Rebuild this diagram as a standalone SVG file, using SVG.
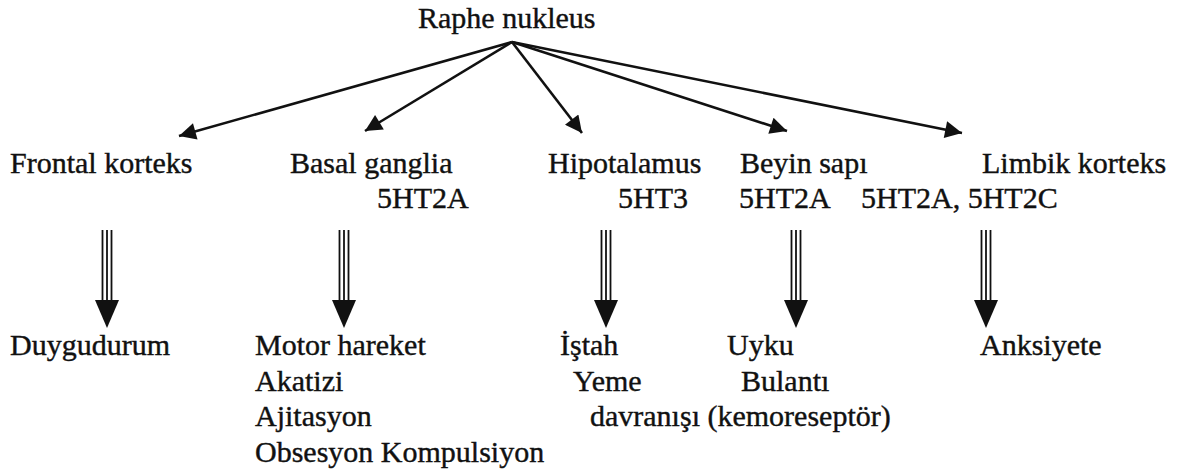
<svg xmlns="http://www.w3.org/2000/svg" width="1190" height="475" viewBox="0 0 1190 475">
<defs>
<style>
text{font-family:"Liberation Serif","Times New Roman",serif;font-size:30px;fill:#111;stroke:#111;stroke-width:0.4}
.c{stroke:#111;stroke-width:2.6;fill:none}
.t{stroke:#111;stroke-width:1.8;fill:none}
.h{fill:#111}
</style>
<marker id="ah" viewBox="0 0 10 10" refX="10" refY="5" markerWidth="9" markerHeight="6.5" markerUnits="strokeWidth" orient="auto">
<path d="M0,0 L10,5 L0,10 Z" fill="#111"/>
</marker>
<g id="tri">
<line class="t" x1="-4.5" y1="0" x2="-4.5" y2="72"/>
<line class="t" x1="0" y1="0" x2="0" y2="72"/>
<line class="t" x1="4.5" y1="0" x2="4.5" y2="72"/>
<path class="h" d="M-12,70 L12,70 L0,98 Z"/>
</g>
</defs>
<rect width="1190" height="475" fill="#fff"/>
<g id="raphe"><text x="418" y="28">Raphe nukleus</text></g>
<g id="frontal"><text x="10" y="173">Frontal korteks</text></g>
<g id="basal"><text x="290" y="173">Basal ganglia</text><text x="377" y="208">5HT2A</text></g>
<g id="hipotalamus"><text x="548" y="173">Hipotalamus</text><text x="618" y="208">5HT3</text></g>
<g id="beyin"><text x="740" y="173">Beyin sapı</text><text x="739" y="208">5HT2A</text></g>
<g id="limbik"><text x="982" y="173">Limbik korteks</text><text x="861" y="208">5HT2A, 5HT2C</text></g>
<g id="duygudurum"><text x="10" y="355">Duygudurum</text></g>
<g id="motor"><text x="255" y="355">Motor hareket</text><text x="255" y="391">Akatizi</text><text x="255" y="426">Ajitasyon</text><text x="255" y="462">Obsesyon Kompulsiyon</text></g>
<g id="istah"><text x="560" y="355">İştah</text><text x="573" y="391">Yeme</text><text x="590" y="426">davranışı (kemoreseptör)</text></g>
<g id="uyku"><text x="727" y="355">Uyku</text><text x="741" y="391">Bulantı</text></g>
<g id="anksiyete"><text x="980" y="355">Anksiyete</text></g>
<g id="connectors">
<line class="c" x1="512" y1="42" x2="179" y2="136" marker-end="url(#ah)"/>
<line class="c" x1="512" y1="42" x2="365" y2="131" marker-end="url(#ah)"/>
<line class="c" x1="512" y1="42" x2="582" y2="133" marker-end="url(#ah)"/>
<line class="c" x1="512" y1="42" x2="787" y2="131" marker-end="url(#ah)"/>
<line class="c" x1="512" y1="42" x2="962" y2="133" marker-end="url(#ah)"/>
<use href="#tri" x="107" y="230"/>
<use href="#tri" x="344" y="230"/>
<use href="#tri" x="606" y="230"/>
<use href="#tri" x="796" y="230"/>
<use href="#tri" x="986" y="230"/>
</g>
</svg>
